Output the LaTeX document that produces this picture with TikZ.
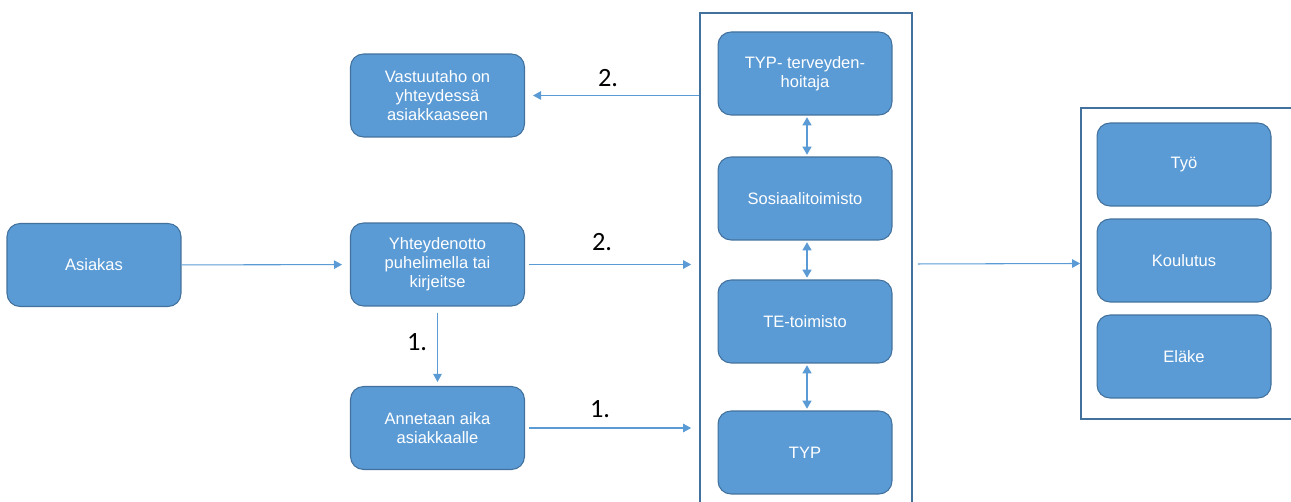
\documentclass[tikz,border=0pt]{standalone}
\usepackage{fontspec}
\setmainfont{Liberation Sans}
\newfontfamily\numerofont{Carlito}
\usetikzlibrary{arrows.meta}
\definecolor{sininen}{HTML}{5B9BD5}
\definecolor{tummasininen}{HTML}{41719C}
\tikzset{
  laatikko/.style={draw=tummasininen,line width=0.6pt,fill=sininen,rounded corners=0.26cm,
    minimum width=3.48cm,minimum height=1.66cm,text=white,align=center,
    font=\fontsize{9.4}{10.9}\selectfont},
  kehys/.style={draw=tummasininen,line width=1pt},
  nuoli/.style={draw=sininen,line width=0.6pt,-{Triangle[length=0.16cm,width=0.17cm]}},
  kaksinuoli/.style={nuoli,{Triangle[length=0.16cm,width=0.18cm]}-{Triangle[length=0.16cm,width=0.18cm]}},
  numero/.style={font=\numerofont\fontsize{15}{18}\selectfont}
}
\newcommand{\laatikko}[4]{\node[laatikko] (#1) at (#2,#3) {#4};}
\newcommand{\kaksisuunta}[2]{\draw[kaksinuoli,shorten <=1pt,shorten >=1pt] ([xshift=0.04cm]#1.south) -- ([xshift=0.04cm]#2.north);}

\begin{document}
\begin{tikzpicture}[x=0.02cm,y=-0.02cm]
    \clip (0,0) rectangle (1291,502);
    % kehykset
    \node[kehys,minimum width=4.24cm,minimum height=10.04cm] (tiimi) at (806,264) {};
    \node[kehys,minimum width=4.38cm,minimum height=6.22cm] (ulos) at (1190.5,263.5) {};
    % vasen puoli
    \laatikko{asiakas}{94}{265}{Asiakas}
    \laatikko{vastuu}{437.5}{95.5}{Vastuutaho on\\yhteydessä\\asiakkaaseen}
    \laatikko{yhteys}{437.5}{264.5}{Yhteydenotto\\puhelimella tai\\kirjeitse}
    \laatikko{annetaan}{437.5}{428}{Annetaan aika\\asiakkaalle}
    % keskellä
    \laatikko{typth}{805}{73.5}{TYP- terveyden-\\hoitaja}
    \laatikko{sosiaali}{805}{198.5}{Sosiaalitoimisto}
    \laatikko{te}{805}{321.5}{TE-toimisto}
    \laatikko{typ}{805}{452.5}{TYP}
    % oikealla
    \laatikko{tyo}{1184}{164.5}{Työ}
    \laatikko{koulutus}{1184}{260.5}{Koulutus}
    \laatikko{elake}{1184}{356.5}{Eläke}
    % nuolet
    \draw[nuoli,shorten >=0.16cm] (asiakas) -- (yhteys);
    \draw[nuoli,shorten <=0.08cm,shorten >=0.16cm] (yhteys.east) -- (yhteys.east -| tiimi.west);
    \draw[nuoli,shorten <=0.12cm,shorten >=0.08cm] (yhteys.south) -- (annetaan.north);
    \draw[nuoli,shorten <=0.08cm,shorten >=0.16cm] (annetaan.east) -- (annetaan.east -| tiimi.west);
    \draw[nuoli,shorten >=0.16cm] (tiimi.west |- vastuu.east) -- (vastuu.east);
    \draw[nuoli,shorten <=0.1cm] (tiimi.east) -- (ulos.west);
    \kaksisuunta{typth}{sosiaali}\kaksisuunta{sosiaali}{te}\kaksisuunta{te}{typ}
    % numerot
    \node[numero] (n2ylos) at (608,78) {2.};
    \node[numero] (n2keski) at (602,242) {2.};
    \node[numero] (n1pysty) at (417,342) {1.};
    \node[numero] (n1ala) at (600,409) {1.};
\end{tikzpicture}
\end{document}
